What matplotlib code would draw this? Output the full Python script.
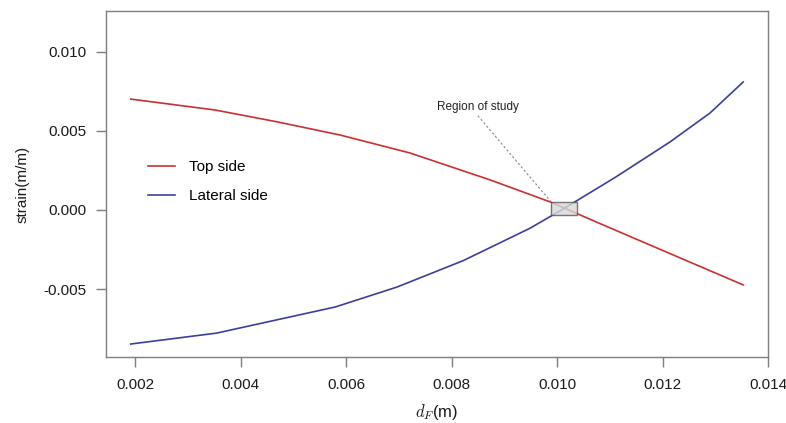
import numpy as np
import matplotlib
matplotlib.use('Agg')
import matplotlib.pyplot as plt
from matplotlib.patches import Rectangle

plt.rcParams['font.family'] = ['Liberation Sans', 'DejaVu Sans']
plt.rcParams['mathtext.fontset'] = 'cm'

# ------------------- data -------------------
top_x = [0.00192, 0.00352, 0.00470, 0.00589, 0.00721, 0.00873, 0.00987, 0.01083, 0.01214, 0.01353]
top_y = [0.00700, 0.00631, 0.00556, 0.00473, 0.00360, 0.00190, 0.00051, -0.00088, -0.00275, -0.00473]

lat_x = [0.00192, 0.00355, 0.00580, 0.00697, 0.00822, 0.00949, 0.01011, 0.01110, 0.01214, 0.01290, 0.01353]
lat_y = [-0.00846, -0.00777, -0.00612, -0.00486, -0.00320, -0.00115, 0.00005, 0.00205, 0.00429, 0.00612, 0.00808]

labels = ['Top side', 'Lateral side']
x_ticks = [0.002, 0.004, 0.006, 0.008, 0.010, 0.012, 0.014]
y_ticks = [-0.005, 0.000, 0.005, 0.010]

study_box = (0.00989, -0.000316, 0.00049, 0.000821)  # x, y, w, h
note_text = 'Region of study'
note_xy = (0.00850, 0.00650)

red = '#cc2f2f'
blue = '#3b3f9c'
grey = '#7f7f7f'

fig = plt.figure(figsize=(7.86, 4.23), dpi=100)
ax = fig.add_axes([106 / 786, 66 / 423, 662 / 786, 346 / 423])

ax.plot(top_x, top_y, color=red, lw=1.2, label=labels[0])
ax.plot(lat_x, lat_y, color=blue, lw=1.2, label=labels[1])

bx, by, bw, bh = study_box
ax.add_patch(Rectangle((bx, by), bw, bh, facecolor='#d9d9d9', edgecolor='#555555',
                       lw=1.0, alpha=0.8, zorder=3))
ax.plot([note_xy[0], bx], [note_xy[1] - 0.00055, by + bh], color='#888888', lw=0.8,
        ls=(0, (2, 2)), zorder=2)
ax.text(note_xy[0], note_xy[1], note_text, ha='center', va='center', fontsize=8.5, color='#222222')

ax.set_xlim(0.00145, 0.014)
ax.set_ylim(-0.00928, 0.01256)
ax.set_xticks(x_ticks)
ax.set_xticklabels([f'{v:.3f}' for v in x_ticks])
ax.set_yticks(y_ticks)
ax.set_yticklabels([f'{v:.3f}' for v in y_ticks])

for s in ax.spines.values():
    s.set_color(grey)
    s.set_linewidth(1.0)
ax.tick_params(direction='out', length=7, width=1.0, color=grey, labelsize=11,
               labelcolor='#1a1a1a')
ax.tick_params(axis='x', pad=8)
ax.tick_params(axis='y', pad=7)

ax.set_xlabel(r'$d_F$(m)', fontsize=12, color='#1a1a1a', labelpad=7)
ax.set_ylabel('strain(m/m)', fontsize=11, color='#1a1a1a', labelpad=10)

ax.legend(loc='center left', bbox_to_anchor=(0.063, 0.507), frameon=False, fontsize=11,
          handlelength=1.8, handletextpad=0.9, labelspacing=1.0, borderpad=0, borderaxespad=0)

fig.savefig('out.png', dpi=100)
